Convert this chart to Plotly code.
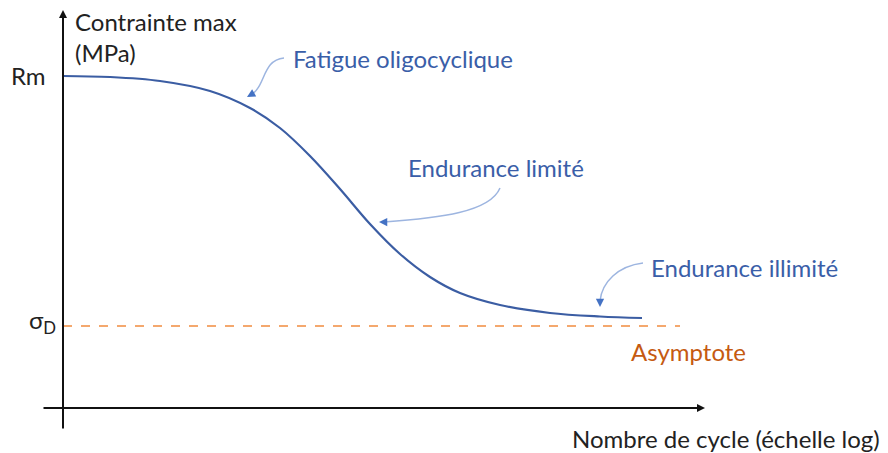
import plotly.graph_objects as go

# ── Schematic data (drawing units = pixels of the original figure) ────────────
CURVE_X = [63, 110, 160, 210, 250, 280, 310, 340, 370, 400, 430, 460, 500, 550, 600, 642]
CURVE_Y = [76, 77, 81, 91, 108, 128, 156, 189, 224, 254, 277, 293, 305, 313, 316.5, 318]

ASYMPTOTE_X = [63, 680]
ASYMPTOTE_Y = [326, 326]

AXIS_ORIGIN = (63, 408)
Y_AXIS_TOP = 10
Y_AXIS_BOTTOM = 430
X_AXIS_LEFT = 42
X_AXIS_RIGHT = 705

# the page body adds an 8 px margin, so shift the drawing ranges by that amount
PAGE_OFFSET = 8

FONT = 'Lato, "Open Sans", sans-serif'
BLUE_CURVE = '#3B5DA3'
BLUE_TEXT = '#3A5EA8'
BLUE_ARROW = '#9DB5E0'
BLUE_HEAD = '#4472C4'
ORANGE_DASH = '#F4A86E'
ORANGE_TEXT = '#C55A11'

fig = go.Figure()

# main curve
fig.add_trace(go.Scatter(
    x=CURVE_X, y=CURVE_Y, mode='lines',
    line=dict(color=BLUE_CURVE, width=2.2, shape='spline', smoothing=1.0),
    showlegend=False, hoverinfo='skip',
))

# asymptote
fig.add_trace(go.Scatter(
    x=ASYMPTOTE_X, y=ASYMPTOTE_Y, mode='lines',
    line=dict(color=ORANGE_DASH, width=2, dash='dash'),
    showlegend=False, hoverinfo='skip',
))

# ── Axes drawn as arrows ──────────────────────────────────────────────────────
fig.add_annotation(x=AXIS_ORIGIN[0], y=Y_AXIS_TOP, ax=AXIS_ORIGIN[0], ay=Y_AXIS_BOTTOM,
                   xref='x', yref='y', axref='x', ayref='y', text='',
                   showarrow=True, arrowhead=2, arrowsize=0.8, arrowwidth=2,
                   arrowcolor='#111111')
fig.add_annotation(x=X_AXIS_RIGHT, y=AXIS_ORIGIN[1], ax=X_AXIS_LEFT, ay=AXIS_ORIGIN[1],
                   xref='x', yref='y', axref='x', ayref='y', text='',
                   showarrow=True, arrowhead=2, arrowsize=0.8, arrowwidth=2,
                   arrowcolor='#111111')

# ── Curved callout arrows ─────────────────────────────────────────────────────
callouts = [
    # (svg path, head tip, head tail)
    ('M 284,58 C 262,60 266,86 251,95', (247, 97), (254, 93)),
    ('M 500,188 C 490,212 440,218 384,222', (379, 222), (386, 222)),
    ('M 643,263 C 618,266 602,282 600,301', (600, 307), (600, 300)),
]
for path, tip, tail in callouts:
    fig.add_shape(type='path', path=path, xref='x', yref='y',
                  line=dict(color=BLUE_ARROW, width=1.5))
    fig.add_annotation(x=tip[0], y=tip[1], ax=tail[0], ay=tail[1],
                       xref='x', yref='y', axref='x', ayref='y', text='',
                       showarrow=True, arrowhead=2, arrowsize=1.1, arrowwidth=1.5,
                       arrowcolor=BLUE_HEAD)

# ── Labels ────────────────────────────────────────────────────────────────────
labels = [
    ('Contrainte max<br>(MPa)', 73, 37, '#222222'),
    ('Rm', 9, 75, '#222222'),
    ('σ<sub>D</sub>', 27, 321, '#222222'),
    ('Fatigue oligocyclique', 291, 58, BLUE_TEXT),
    ('Endurance limité', 406, 167, BLUE_TEXT),
    ('Endurance illimité', 649, 267, BLUE_TEXT),
    ('Asymptote', 629, 351, ORANGE_TEXT),
    ('Nombre de cycle (échelle log)', 570, 438, '#222222'),
]
for text, x, y, color in labels:
    fig.add_annotation(x=x, y=y, xref='x', yref='y', text=text, showarrow=False,
                       xanchor='left', yanchor='middle', align='left',
                       font=dict(family=FONT, size=24, color=color))

fig.update_layout(
    width=888, height=453,
    margin=dict(l=0, r=0, t=0, b=0),
    plot_bgcolor='white', paper_bgcolor='white',
    xaxis=dict(range=[PAGE_OFFSET, 888 + PAGE_OFFSET], visible=False, fixedrange=True),
    yaxis=dict(range=[453 + PAGE_OFFSET, PAGE_OFFSET], visible=False, fixedrange=True),
)

fig.write_html('out.html')
